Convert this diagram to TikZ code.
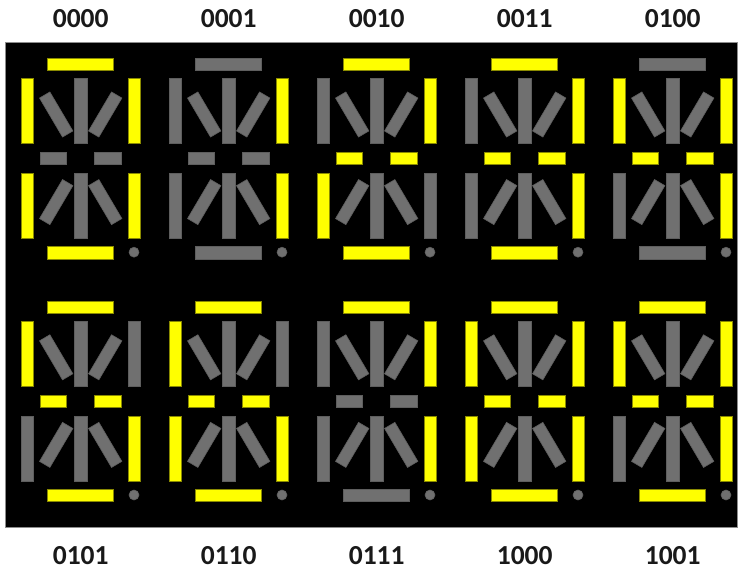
\documentclass[tikz,border=0pt]{standalone}
\usepackage{fontspec}
\setmainfont{Carlito}
\definecolor{segY}{HTML}{FFFF00}
\definecolor{segYd}{HTML}{8A8A00}
\definecolor{segG}{HTML}{707070}
\definecolor{segGd}{HTML}{5E5E5E}
\definecolor{frameG}{HTML}{8C8C8C}
\tikzset{
  segon/.style={fill=segY, draw=segYd, line width=0.6pt},
  segoff/.style={fill=segG, draw=segGd, line width=0.6pt},
  lbl/.style={font=\bfseries\fontsize{27.5}{29}\selectfont, text=black!90, inner sep=0pt, anchor=center},
}
% #1 cx, #2 top y, #3 top bar, #4 upper-left, #5 upper-right, #6 lower-left, #7 lower-right, #8 bottom, #9 middles
\newcommand\sixteenseg[9]{%
\begin{scope}[shift={(#1,#2)}]
  \path[#3] (-33,0) rectangle (33,12);
  \path[#4] (-59.7,20) rectangle (-47.7,85);
  \path[#5] (47.7,20) rectangle (59.7,85);
  \path[#6] (-59.7,115) rectangle (-47.7,180);
  \path[#7] (47.7,115) rectangle (59.7,180);
  \path[#8] (-33,188.6) rectangle (33,200.8);
  \path[#9] (-40.7,94.3) rectangle (-14,106.3);
  \path[#9] (13.6,94.3) rectangle (40.3,106.3);
  \path[segoff] (-6.2,20) rectangle (6.2,85);
  \path[segoff] (-6.2,115) rectangle (6.2,180);
  \path[segoff] (-30.83,33.95) -- (-7.83,72.95) -- (-18.17,79.05) -- (-41.17,40.05) -- cycle;
  \path[segoff] (30.83,33.95) -- (7.83,72.95) -- (18.17,79.05) -- (41.17,40.05) -- cycle;
  \path[segoff] (-30.83,166.65) -- (-7.83,127.65) -- (-18.17,121.55) -- (-41.17,160.55) -- cycle;
  \path[segoff] (30.83,166.65) -- (7.83,127.65) -- (18.17,121.55) -- (41.17,160.55) -- cycle;
  \path[segoff] (53.3,194.2) circle (5);
\end{scope}}
\begin{document}
\begin{tikzpicture}[x=1pt,y=-1pt]
\useasboundingbox (0,0) rectangle (740,570);
\fill[white] (0,0) rectangle (740,570);
\draw[fill=black, draw=frameG, line width=0.8pt] (5.5,42.5) rectangle (737.5,527.5);
% row 1
\sixteenseg{80.7}{58}{segon}{segon}{segon}{segon}{segon}{segon}{segoff}
\sixteenseg{228.7}{58}{segoff}{segoff}{segon}{segoff}{segon}{segoff}{segoff}
\sixteenseg{376.7}{58}{segon}{segoff}{segon}{segon}{segoff}{segon}{segon}
\sixteenseg{524.7}{58}{segon}{segoff}{segon}{segoff}{segon}{segon}{segon}
\sixteenseg{672.7}{58}{segoff}{segon}{segon}{segoff}{segon}{segoff}{segon}
% row 2
\sixteenseg{80.7}{300.8}{segon}{segon}{segoff}{segoff}{segon}{segon}{segon}
\sixteenseg{228.7}{300.8}{segon}{segon}{segoff}{segon}{segon}{segon}{segon}
\sixteenseg{376.7}{300.8}{segon}{segoff}{segon}{segoff}{segon}{segoff}{segoff}
\sixteenseg{524.7}{300.8}{segon}{segon}{segon}{segon}{segon}{segon}{segon}
\sixteenseg{672.7}{300.8}{segon}{segon}{segon}{segoff}{segon}{segon}{segon}
% labels
\node[lbl] (l0) at (80.7,19) {0000};
\node[lbl] (l1) at (228.7,19) {0001};
\node[lbl] (l2) at (376.7,19) {0010};
\node[lbl] (l3) at (524.7,19) {0011};
\node[lbl] (l4) at (672.7,19) {0100};
\node[lbl] (l5) at (80.7,555.5) {0101};
\node[lbl] (l6) at (228.7,555.5) {0110};
\node[lbl] (l7) at (376.7,555.5) {0111};
\node[lbl] (l8) at (524.7,555.5) {1000};
\node[lbl] (l9) at (672.7,555.5) {1001};
\end{tikzpicture}
\end{document}
